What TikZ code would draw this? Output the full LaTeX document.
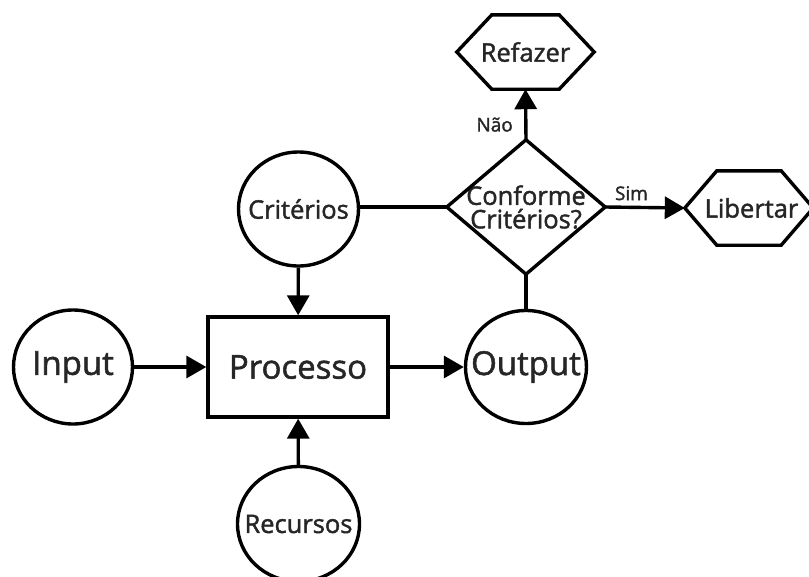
\documentclass[tikz,border=0pt]{standalone}
\usepackage{fontspec}
\setmainfont{Open Sans}
\newfontfamily\semib{Open Sans}[FakeBold=1.6]
\usetikzlibrary{shapes.geometric,arrows.meta}
\tikzset{
  lw/.style={line width=3.4pt},
  circ/.style={ellipse,draw,lw,inner sep=0pt,fill=white},
  big/.style={font=\semib\fontsize{33}{35}\selectfont},
  mid/.style={font=\semib\fontsize{25.5}{23.5}\selectfont},
  small/.style={font=\semib\fontsize{19}{21}\selectfont},
  conn/.style={lw},
  arr/.style={lw,-{Triangle[length=20pt,width=22pt]}},
  hexbox/.style={inner sep=0pt,minimum width=#1,minimum height=74pt}
}
\begin{document}
\begin{tikzpicture}[x=1pt,y=-1pt,text=black!85]
\useasboundingbox (0,0) rectangle (809,576);
% nodes
\node[circ,minimum width=119pt,minimum height=114pt] (in) at (73,367) {};
\node[big] (inT) at (in.center) {Input};
\node[draw,lw,big,minimum width=180pt,minimum height=100pt,inner sep=0pt] (proc) at (298,367) {Processo};
\node[circ,minimum width=121pt,minimum height=113pt] (out) at (526,367) {};
\node[big] (outT) at (out.center) {Output};
\node[circ,minimum width=120pt,minimum height=114pt] (crit) at (298.5,209) {};
\node[mid] (critT) at (crit.center) {Critérios};
\node[circ,minimum width=122pt,minimum height=115pt] (rec) at (298.5,524) {};
\node[mid] (recT) at (rec.center) {Recursos};
\node[mid,align=center,inner sep=0pt,minimum width=158pt,minimum height=134pt] (dec) at (526,207) {Conforme\\Critérios?};
\draw[lw,line join=miter] (dec.north) -- (dec.east) -- (dec.south) -- (dec.west) -- cycle;
\node[mid,hexbox=137pt] (ref) at (525.5,52) {Refazer};
\draw[lw] (ref.west) -- ([xshift=35pt]ref.north west) -- ([xshift=-35pt]ref.north east) -- (ref.east) -- ([xshift=-35pt]ref.south east) -- ([xshift=35pt]ref.south west) -- cycle;
\node[mid,hexbox=128pt] (lib) at (749,208) {\hspace*{5pt}Libertar};
\draw[lw] (lib.west) -- ([xshift=32pt]lib.north west) -- ([xshift=-32pt]lib.north east) -- (lib.east) -- ([xshift=-32pt]lib.south east) -- ([xshift=32pt]lib.south west) -- cycle;
% connectors
\draw[arr] (in) -- (proc);
\draw[arr] (proc) -- (out);
\draw[arr] (crit) -- (proc);
\draw[arr] (rec) -- (proc);
\draw[conn] (dec.west) -- (dec.west -| crit.east);
\draw[conn] (dec.south) -- (out);
\draw[arr] (dec.north) -- node[small,left=8pt,pos=0.3] (nao) {Não} (ref.south);
\draw[arr] (dec.east) -- node[small,above=2pt,pos=0.33] (sim) {Sim} (lib.west);
\end{tikzpicture}
\end{document}
